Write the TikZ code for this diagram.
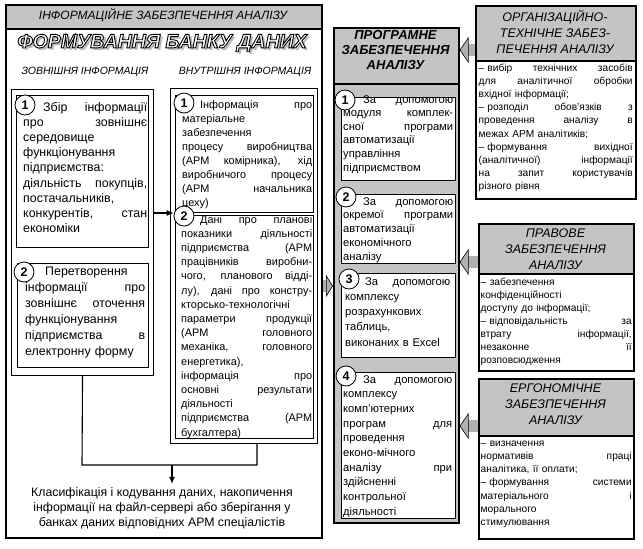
\documentclass[tikz,border=0pt]{standalone}
\usepackage{fontspec}
\setmainfont{Liberation Sans}
\usetikzlibrary{arrows.meta,positioning}

\definecolor{hdrgray}{RGB}{196,196,196}
\definecolor{arrgray}{RGB}{176,176,176}
\newcommand{\jl}[1]{\makebox[\linewidth][s]{\spaceskip=0.3em plus 1fil\relax #1}}
\newcommand{\titletxt}{ФОРМУВАННЯ БАНКУ ДАНИХ}

\tikzset{
  frame/.style={draw, line width=1.6pt, inner sep=0pt, anchor=north west},
  colframe/.style={draw, line width=1.1pt, inner sep=0pt, anchor=north west},
  itembox/.style={draw, line width=0.9pt, fill=white, inner sep=0pt, anchor=north west},
  numc/.style={circle, draw, line width=0.8pt, fill=white, inner sep=0pt, minimum size=20pt, font=\bfseries\fontsize{12.5}{12.5}\selectfont},
  body/.style={inner sep=0pt, anchor=base west, align=left},
  hdr/.style={align=center, inner sep=0pt, font=\itshape\fontsize{12.5}{16}\selectfont},
  titletext/.style={font=\bfseries\itshape\fontsize{19.5}{19.5}\selectfont},
  blockarr/.style={line width=12pt, arrgray, -{Triangle[length=9pt,width=26pt,line width=0.6pt,fill=arrgray,color=black]}},
  link/.style={line width=1.1pt},
  arr/.style={line width=1.1pt, -{Latex[length=7pt,width=6pt]}}
}

\begin{document}
\begin{tikzpicture}[x=1pt,y=-1pt]
\useasboundingbox (0,0) rectangle (643,549);

% information support
\node[frame, minimum width=316pt, minimum height=533pt] (info) at (5,4) {};
\node[frame, fill=hdrgray, minimum width=316pt, minimum height=24pt] (infohdr) at (5,4) {};
\node[font=\itshape\fontsize{12}{12}\selectfont] (infottl) at (163,15) {ІНФОРМАЦІЙНЕ ЗАБЕЗПЕЧЕННЯ АНАЛІЗУ};

% outlined title with shadow
\node[titletext, text=gray!55] (ttlsh) at (164.5,45.5) {\titletxt};
\node[titletext] (ttl) at (162,43) {\color{white}\special{pdf:literal direct 2 Tr 0.9 w 0 G}\titletxt\special{pdf:literal direct 0 Tr}};

\node[font=\itshape\fontsize{10.5}{10.5}\selectfont] (extttl) at (85,72) {ЗОВНІШНЯ ІНФОРМАЦІЯ};
\node[font=\itshape\fontsize{10.5}{10.5}\selectfont] (intttl) at (245,72) {ВНУТРІШНЯ ІНФОРМАЦІЯ};

% external information
\node[colframe, minimum width=142pt, minimum height=286pt] (lcol) at (11,89) {};
\node[itembox, minimum width=132pt, minimum height=152pt] (lb1) at (16,95) {};
\node[itembox, minimum width=131pt, minimum height=104pt] (lb2) at (17,263) {};
\node[body, text width=124pt, font=\fontsize{12.4}{15.2}\selectfont] (lb1t) at (23,111)
  {\jl{\hspace{20pt}Збір інформації}\\ \jl{про зовнішнє}\\ середовище\\ функціонування\\ підприємства:\\ \jl{діяльність покупців,}\\ постачальників,\\ \jl{конкурентів, стан}\\ економіки};
\node[body, text width=120pt, font=\fontsize{12.4}{16}\selectfont] (lb2t) at (25,275)
  {\hspace*{20pt}Перетворення\\ \jl{інформації про}\\ \jl{зовнішнє оточення}\\ функціонування\\ \jl{підприємства в}\\ електронну форму};
\node[numc] (lc1) at (25,105) {1};
\node[numc] (lc2) at (24,272) {2};

% internal information
\node[colframe, minimum width=147pt, minimum height=355pt] (rcol) at (170,88) {};
\node[itembox, minimum width=138pt, minimum height=117pt] (rb1) at (175,95) {};
\node[itembox, minimum width=138pt, minimum height=223pt] (rb2) at (175,215) {};
\node[body, text width=130pt, font=\fontsize{10.9}{14}\selectfont] (rb1t) at (182,108)
  {\jl{\hspace{18pt}Інформація про}\\ матеріальне\\ забезпечення\\ \jl{процесу виробництва}\\ \jl{(АРМ комірника), хід}\\ \jl{виробничого процесу}\\ \jl{(АРМ начальника}\\ цеху)};
\node[body, text width=131pt, font=\fontsize{10.9}{14.2}\selectfont] (rb2t) at (181,223)
  {\jl{\hspace{19pt}Дані про планові}\\ \jl{показники діяльності}\\ \jl{підприємства (АРМ}\\ \jl{працівників виробни-}\\ \jl{чого, планового відді-}\\ \jl{лу), дані про констру-}\\ кторсько-технологічні\\ \jl{параметри продукції}\\ \jl{(АРМ головного}\\ \jl{механіка, головного}\\ енергетика),\\ \jl{інформація про}\\ \jl{основні результати}\\ діяльності\\ \jl{підприємства (АРМ}\\ бухгалтера)};
\node[numc] (rc1) at (184,103) {1};
\node[numc] (rc2) at (184,216) {2};

% joining lines and store
\coordinate (jl) at (82,465);
\coordinate (jm) at (172,465);
\coordinate (jr) at (257,465);
\draw[link] (lcol.south) -- (jl) -- (jr) -- (jr |- rcol.south);
\node[align=center, font=\fontsize{12.3}{15}\selectfont] (store) at (162,508)
  {Класифікація і кодування даних, накопичення\\ інформації на файл-сервері або зберігання у\\ банках даних відповідних АРМ спеціалістів};
\draw[arr] (jm) -- (jm |- store.north);
\draw[arr] (lcol.east |- 0,213) -- (rc2.west |- 0,213);

% software support
\node[frame, fill=hdrgray, minimum width=125pt, minimum height=495pt] (prog) at (333,27) {};
\node[frame, fill=hdrgray, minimum width=125pt, minimum height=56pt] (proghdr) at (333,27) {};
\node[align=center, font=\bfseries\itshape\fontsize{13}{15}\selectfont] (progttl) at (395.5,50) {ПРОГРАМНЕ\\ЗАБЕЗПЕЧЕННЯ\\АНАЛІЗУ};
\node[itembox, minimum width=114pt, minimum height=83pt] (m1) at (341,97) {};
\node[itembox, minimum width=114pt, minimum height=69pt] (m2) at (341,194) {};
\node[itembox, minimum width=114pt, minimum height=84pt] (m3) at (341,273) {};
\node[itembox, minimum width=114pt, minimum height=146pt] (m4) at (341,372) {};
\node[body, text width=110pt, font=\fontsize{11.2}{13.6}\selectfont] (m1t) at (343,103)
  {\jl{\hspace{20pt}За допомогою}\\ \jl{модуля комплек-}\\ \jl{сної програми}\\ автоматизації\\ управління\\ підприємством};
\node[body, text width=110pt, font=\fontsize{11.2}{13.75}\selectfont] (m2t) at (343,205)
  {\jl{\hspace{20pt}За допомогою}\\ \jl{окремої програми}\\ автоматизації\\ економічного\\ аналізу};
\node[body, text width=105pt, font=\fontsize{11.2}{15.25}\selectfont] (m3t) at (345,285)
  {\jl{\hspace{20pt}За допомогою}\\ комплексу\\ розрахункових\\ таблиць,\\ виконаних в Excel};
\node[body, text width=109pt, font=\fontsize{11.2}{14.7}\selectfont] (m4t) at (343,383)
  {\jl{\hspace{20pt}За допомогою}\\ комплексу\\ комп’ютерних\\ \jl{програм для}\\ проведення\\ еконо-мічного\\ \jl{аналізу при}\\ здійсненні\\ контрольної\\ діяльності};
\node[numc] (mc1) at (345,100) {1};
\node[numc] (mc2) at (346,197) {2};
\node[numc] (mc3) at (349,279) {3};
\node[numc] (mc4) at (346,376) {4};

% organisational and technical support
\node[frame, minimum width=160pt, minimum height=193pt] (org) at (475,5) {};
\node[frame, fill=hdrgray, minimum width=160pt, minimum height=55pt] (orghdr) at (475,5) {};
\node[hdr] (orgttl) at (555,31.5) {ОРГАНІЗАЦІЙНО-\\ТЕХНІЧНЕ ЗАБЕЗ-\\ПЕЧЕННЯ АНАЛІЗУ};
\node[body, text width=154pt, font=\fontsize{10.2}{13.2}\selectfont] (orgt) at (478.5,71)
  {\jl{–\kern.3em вибір технічних засобів}\\ \jl{для аналітичної обробки}\\ вхідної інформації;\\ \jl{–\kern.3em розподіл обов’язків з}\\ \jl{проведення аналізу в}\\ межах АРМ аналітиків;\\ \jl{–\kern.3em формування вихідної}\\ \jl{(аналітичної) інформації}\\ \jl{на запит користувачів}\\ різного рівня};

% legal support
\node[frame, minimum width=155pt, minimum height=147pt] (prav) at (478,223) {};
\node[frame, fill=hdrgray, minimum width=155pt, minimum height=50pt] (pravhdr) at (478,223) {};
\node[hdr] (pravttl) at (555.5,249) {ПРАВОВЕ\\ЗАБЕЗПЕЧЕННЯ\\АНАЛІЗУ};
\node[body, text width=151pt, font=\fontsize{10.2}{13}\selectfont] (pravt) at (480.5,285)
  {– забезпечення\\ конфіденційності\\ доступу до інформації;\\ \jl{–\kern.3em відповідальність за}\\ \jl{втрату інформації,}\\ \jl{незаконне її}\\ розповсюдження};

% ergonomic support
\node[frame, minimum width=155pt, minimum height=160pt] (erg) at (478,378) {};
\node[frame, fill=hdrgray, minimum width=155pt, minimum height=57pt] (erghdr) at (478,378) {};
\node[hdr] (ergttl) at (555.5,404) {ЕРГОНОМІЧНЕ\\ЗАБЕЗПЕЧЕННЯ\\АНАЛІЗУ};
\node[body, text width=151pt, font=\fontsize{10.2}{13.3}\selectfont] (ergt) at (480.5,446)
  {– визначення\\ \jl{нормативів праці}\\ аналітика, її оплати;\\ \jl{–\kern.3em формування системи}\\ \jl{матеріального і}\\ морального\\ стимулювання};

% block arrows into software support
\draw[blockarr] (org.west |- 0,50) -- (prog.east |- 0,50);
\draw[blockarr] (prav.west |- 0,262) -- (prog.east |- 0,262);
\draw[blockarr] (erg.west |- 0,426) -- (prog.east |- 0,426);
\draw[blockarr, -{Triangle[length=7pt,width=22pt,line width=0.6pt,fill=arrgray,color=black]}] (info.east |- 0,286) -- (prog.west |- 0,286);
\end{tikzpicture}
\end{document}
